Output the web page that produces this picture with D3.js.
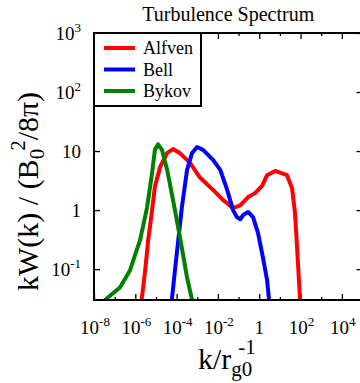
<!DOCTYPE html>
<html>
<head>
<meta charset="utf-8">
<script src="https://cdn.jsdelivr.net/npm/d3@7"></script>
<style>
body { margin: 0; background: #fff; }
svg { display: block; }
</style>
</head>
<body>
<svg id="chart"></svg>
<script>
// Turbulence spectrum, values
const seriesNames = ["Alfven", "Bell", "Bykov"];
const seriesColors = ["#ff0000", "#0000ff", "#008000"];

const alfvenK = [1.6e-6, 2.0e-6, 3.0e-6, 4.2e-6, 6.5e-6, 8.9e-6, 1.6e-5, 3.5e-5, 6.8e-5, 1.4e-4, 4.5e-4, 1.3e-3, 5.8e-3, 1.8e-2, 5.4e-2, 0.12, 0.29, 0.63, 1.4, 2.4, 5.9, 22, 39, 54, 68, 95, 115];
const alfvenW = [0.02, 0.029, 0.095, 0.31, 1.0, 2.5, 5.4, 9.3, 10.8, 9.3, 6.3, 3.6, 2.2, 1.48, 1.08, 1.2, 1.66, 1.94, 2.6, 3.9, 4.6, 3.9, 2.35, 0.89, 0.23, 0.03, 0.02];

const bellK = [5.0e-5, 5.8e-5, 8.3e-5, 1.2e-4, 1.8e-4, 3.2e-4, 5.6e-4, 9.8e-4, 1.9e-3, 5.8e-3, 1.3e-2, 2.8e-2, 5.4e-2, 8.3e-2, 0.12, 0.17, 0.29, 0.50, 0.87, 1.5, 2.4, 3.0, 3.4];
const bellW = [0.02, 0.029, 0.095, 0.31, 1.12, 4.8, 9.3, 11.7, 10.5, 7.1, 4.8, 2.2, 1.0, 0.76, 0.7, 0.83, 0.93, 0.76, 0.41, 0.16, 0.065, 0.03, 0.02];

const bykovK = [1.9e-8, 3.4e-8, 1.8e-7, 5.5e-7, 1.7e-6, 3.7e-6, 6.5e-6, 8.9e-6, 1.26e-5, 1.95e-5, 3.5e-5, 8.3e-5, 1.8e-4, 3.2e-4, 5.6e-4, 7.0e-4];
const bykovW = [0.02, 0.03, 0.049, 0.095, 0.31, 1.1, 4.3, 10.5, 13, 10.5, 4.8, 1.0, 0.23, 0.072, 0.03, 0.02];

const xTickExps = [-8, -6, -4, -2, 0, 2, 4];
const xMinorExps = [-7, -5, -3, -1, 1, 3];
const yTickExps = [-1, 0, 1, 2, 3];

const width = 360, height = 383;
const plotLeft = 94, plotRight = 362.5, plotTop = 33, plotBottom = 300;
const serif = '"Liberation Serif", "Times New Roman", serif';

const svg = d3.select("#chart")
  .attr("width", width)
  .attr("height", height)
  .attr("viewBox", [0, 0, width, height]);

const x = d3.scaleLog().domain([1e-8, 1e5]).range([plotLeft, plotRight]);
const y = d3.scaleLog().domain([0.03, 1000]).range([plotBottom, plotTop]);

svg.append("defs").append("clipPath").attr("id", "plot-clip")
  .append("rect")
  .attr("x", plotLeft).attr("y", plotTop)
  .attr("width", plotRight - plotLeft).attr("height", plotBottom - plotTop);

// ticks (inward, on all four sides)
const tickStyle = g => {
  g.select(".domain").remove();
  g.selectAll("line").attr("stroke", "#000").attr("stroke-width", 1.3);
};
const majorX = xTickExps.map(e => Math.pow(10, e));
const minorX = xMinorExps.map(e => Math.pow(10, e));
const majorY = yTickExps.map(e => Math.pow(10, e));

svg.append("g").attr("transform", `translate(0,${plotBottom})`)
  .call(d3.axisBottom(x).tickValues(majorX).tickSize(-6).tickFormat("")).call(tickStyle);
svg.append("g").attr("transform", `translate(0,${plotBottom})`)
  .call(d3.axisBottom(x).tickValues(minorX).tickSize(-3).tickFormat("")).call(tickStyle);
svg.append("g").attr("transform", `translate(0,${plotTop})`)
  .call(d3.axisTop(x).tickValues(majorX).tickSize(-6).tickFormat("")).call(tickStyle);
svg.append("g").attr("transform", `translate(0,${plotTop})`)
  .call(d3.axisTop(x).tickValues(minorX).tickSize(-3).tickFormat("")).call(tickStyle);
svg.append("g").attr("transform", `translate(${plotLeft},0)`)
  .call(d3.axisLeft(y).tickValues(majorY).tickSize(-6).tickFormat("")).call(tickStyle);
svg.append("g").attr("transform", `translate(${plotRight},0)`)
  .call(d3.axisRight(y).tickValues(majorY).tickSize(-6).tickFormat("")).call(tickStyle);

// tick labels with superscript exponents
function powerLabel(sel, e) {
  if (e === 0) { sel.append("tspan").text("1"); return; }
  if (e === 1) { sel.append("tspan").text("10"); return; }
  sel.append("tspan").text("10");
  sel.append("tspan").attr("dy", -8).style("font-size", "13px").text(e);
}

svg.append("g")
  .selectAll("text")
  .data(xTickExps)
  .join("text")
    .style("font-family", serif)
    .style("font-size", "19px")
    .attr("text-anchor", "middle")
    .attr("x", d => x(Math.pow(10, d)) + (d === 0 ? 0 : 1))
    .attr("y", 334)
    .each(function(d) { powerLabel(d3.select(this), d); });

svg.append("g")
  .selectAll("text")
  .data(yTickExps)
  .join("text")
    .style("font-family", serif)
    .style("font-size", "19px")
    .attr("text-anchor", "end")
    .attr("x", 81)
    .attr("y", d => y(Math.pow(10, d)) + 6.5)
    .each(function(d) { powerLabel(d3.select(this), d); });

// curves
const line = d3.line().x(d => x(d[0])).y(d => y(d[1]));
const series = [
  d3.zip(alfvenK, alfvenW),
  d3.zip(bellK, bellW),
  d3.zip(bykovK, bykovW)
];

svg.append("g")
  .attr("clip-path", "url(#plot-clip)")
  .selectAll("path")
  .data(series)
  .join("path")
    .attr("fill", "none")
    .attr("stroke", (d, i) => seriesColors[i])
    .attr("stroke-width", 4)
    .attr("stroke-linejoin", "round")
    .attr("d", line);

// frame
svg.append("rect")
  .attr("x", plotLeft).attr("y", plotTop)
  .attr("width", plotRight - plotLeft).attr("height", plotBottom - plotTop)
  .attr("fill", "none")
  .attr("stroke", "#000")
  .attr("stroke-width", 2);

// legend
const legend = svg.append("g");
legend.append("rect")
  .attr("x", plotLeft).attr("y", plotTop)
  .attr("width", 107).attr("height", 73)
  .attr("fill", "#fff")
  .attr("stroke", "#000")
  .attr("stroke-width", 2);

const entry = legend.selectAll("g.entry")
  .data(seriesNames)
  .join("g")
    .attr("class", "entry")
    .attr("transform", (d, i) => `translate(0,${48 + i * 21.5})`);
entry.append("line")
  .attr("x1", 104).attr("x2", 135)
  .attr("stroke", (d, i) => seriesColors[i])
  .attr("stroke-width", 4);
entry.append("text")
  .attr("x", 143).attr("y", 6)
  .style("font-family", serif)
  .style("font-size", "18px")
  .text(d => d);

// title
svg.append("text")
  .attr("x", (plotLeft + plotRight) / 2)
  .attr("y", 21)
  .attr("text-anchor", "middle")
  .style("font-family", serif)
  .style("font-size", "20px")
  .text("Turbulence Spectrum");

// x label
const xl = svg.append("text")
  .attr("x", 198)
  .attr("y", 369)
  .style("font-family", serif)
  .style("font-size", "30px");
xl.append("tspan").text("k/r");
xl.append("tspan").attr("dy", 7).style("font-size", "21px").text("g0");
xl.append("tspan").attr("dx", -14).attr("dy", -22).style("font-size", "21px").text("-1");

// y label
const yl = svg.append("text")
  .attr("transform", "translate(38,291) rotate(-90)")
  .style("font-family", serif)
  .style("font-size", "30px");
yl.append("tspan").text("kW(k) / (B");
yl.append("tspan").attr("dy", 6).style("font-size", "21px").text("0");
yl.append("tspan").attr("dx", -2).attr("dy", -19).style("font-size", "21px").text("2");
yl.append("tspan").attr("dy", 13).text("/8π)");
</script>
</body>
</html>
